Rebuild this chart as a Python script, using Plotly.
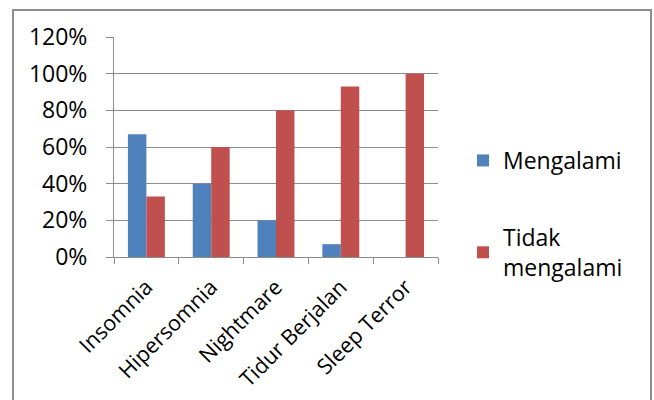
import plotly.graph_objects as go

categories = ["Insomnia", "Hipersomnia", "Nightmare", "Tidur Berjalan", "Sleep Terror"]
mengalami = [0.67, 0.40, 0.20, 0.07, 0.00]
tidak_mengalami = [0.33, 0.60, 0.80, 0.93, 1.00]
y_ticks = [0, 0.2, 0.4, 0.6, 0.8, 1.0, 1.2]
y_tick_labels = ["0%", "20%", "40%", "60%", "80%", "100%", "120%"]

FONT = "Open Sans"
GRID = "#8c8c8c"
FS = 23

fig = go.Figure()
fig.add_trace(go.Bar(x=categories, y=mengalami, name="Mengalami",
                     marker=dict(color="#4F81BD", line=dict(width=0)),
                     legendgroup="a"))
fig.add_trace(go.Bar(x=categories, y=tidak_mengalami, name="Tidak<br>mengalami",
                     marker=dict(color="#C0504D", line=dict(width=0)),
                     legendgroup="b"))

L, R, T, B = 114, 216, 37, 143
W, H = 654, 400
pw, ph = W - L - R, H - T - B

def px(x):
    return (x - L) / pw

def py(y):
    return (H - B - y) / ph

fig.update_layout(
    width=W, height=H,
    margin=dict(l=L, r=R, t=T, b=B, pad=0, autoexpand=False),
    paper_bgcolor="white", plot_bgcolor="white",
    font=dict(family=FONT, size=FS, color="#000000"),
    barmode="group", bargap=0.43, bargroupgap=0,
    showlegend=True,
    legend=dict(x=px(463), y=py(139), xanchor="left", yanchor="top",
                font=dict(size=FS), tracegroupgap=44, traceorder="grouped",
                bgcolor="rgba(0,0,0,0)"),
    xaxis=dict(tickangle=-45, showgrid=False, showline=True, linecolor=GRID,
               linewidth=1, ticks="outside", tickson="boundaries", ticklen=6,
               tickcolor=GRID, tickfont=dict(size=21.5), ticklabelstandoff=8,
               automargin=False),
    yaxis=dict(range=[0, 1.2], tickvals=y_ticks, ticktext=y_tick_labels,
               showgrid=True, gridcolor=GRID, gridwidth=1, showline=True,
               linecolor=GRID, linewidth=1, ticks="outside", ticklen=7,
               tickcolor=GRID, zeroline=False, ticklabelstandoff=14,
               tickfont=dict(size=FS), automargin=False),
    shapes=[dict(type="rect", xref="paper", yref="paper",
                 x0=px(13), x1=px(651), y0=py(410), y1=py(10),
                 line=dict(color="#8c8c8c", width=2), layer="below")],
)

fig.write_html("out.html")
